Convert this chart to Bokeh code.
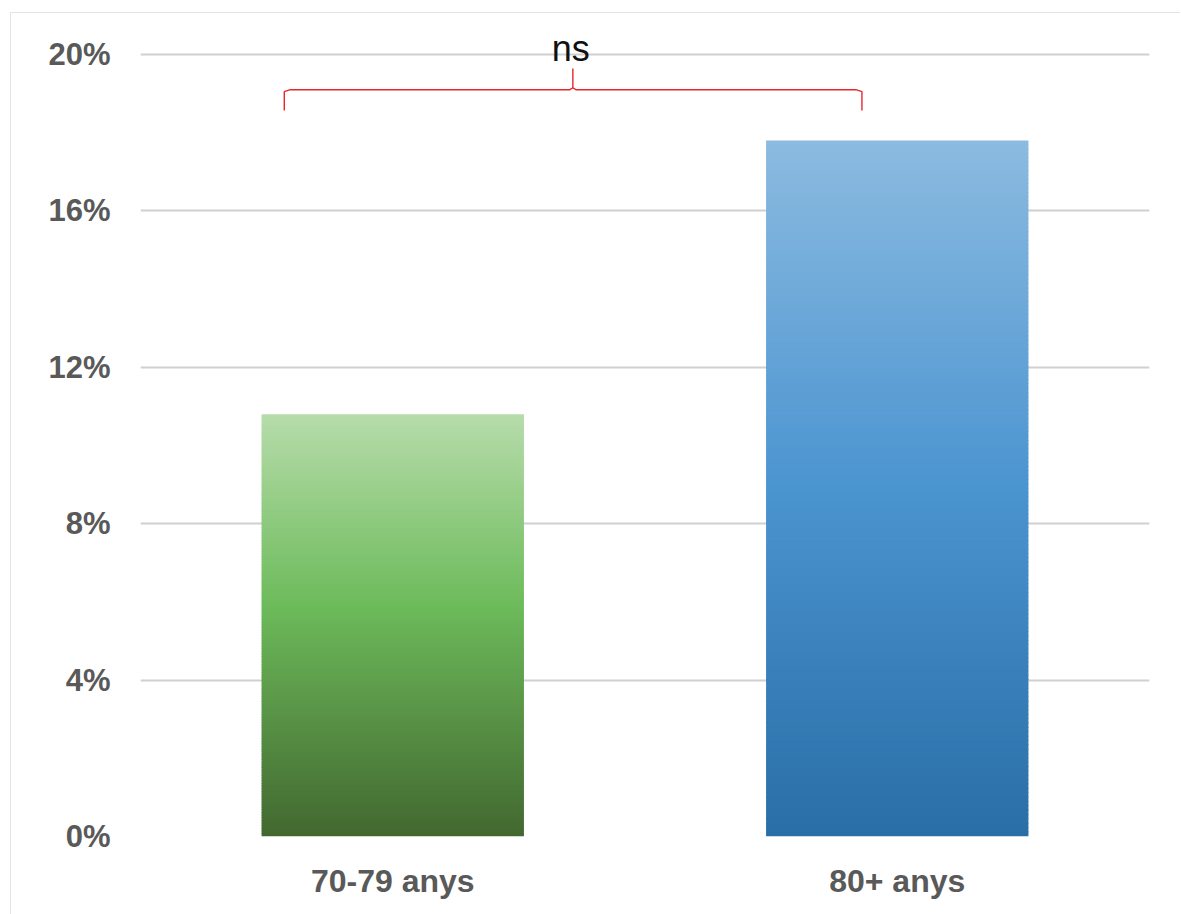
from bokeh.plotting import figure
from bokeh.models import ColumnDataSource, FixedTicker, Range1d, Label
from bokeh.embed import file_html
from bokeh.resources import INLINE

# ---- data ----
categories = ["70-79 anys", "80+ anys"]
values = [10.8, 17.8]
y_ticks = [0, 4, 8, 12, 16, 20]
y_tick_labels = ["0%", "4%", "8%", "12%", "16%", "20%"]
sig_label = "ns"

# gradient stops (fraction of bar height from bottom, colour)
grad_stops = [
    [(0.0, "#426830"), (0.55, "#6dbb5b"), (1.0, "#b7dcab")],
    [(0.0, "#2a6ea6"), (0.5, "#4a94d0"), (1.0, "#8cbbe0")],
]


def hex2rgb(h):
    h = h.lstrip("#")
    return tuple(int(h[i:i + 2], 16) for i in (0, 2, 4))


def interp(stops, t):
    for (t0, c0), (t1, c1) in zip(stops[:-1], stops[1:]):
        if t0 <= t <= t1:
            f = (t - t0) / (t1 - t0) if t1 > t0 else 0
            a, b = hex2rgb(c0), hex2rgb(c1)
            return "#%02x%02x%02x" % tuple(int(round(a[i] + (b[i] - a[i]) * f)) for i in range(3))
    return stops[-1][1]


centers = [i + 0.5 for i in range(len(categories))]
bar_w = 0.52
N = 160
left, right, bottom, top, color = [], [], [], [], []
for c, v, stops in zip(centers, values, grad_stops):
    for k in range(N):
        b = v * k / N
        t = v * (k + 1) / N
        left.append(c - bar_w / 2)
        right.append(c + bar_w / 2)
        bottom.append(b)
        top.append(t + (0.02 if k < N - 1 else 0))
        color.append(interp(stops, (k + 0.5) / N))

src = ColumnDataSource(dict(left=left, right=right, bottom=bottom, top=top, color=color))

W, H = 1170, 902
p = figure(width=W, height=H, output_backend="svg", toolbar_location=None,
           x_range=Range1d(0, len(categories)), y_range=Range1d(0, 20 * 803 / 782),
           min_border_left=129, min_border_right=32, min_border_top=20, min_border_bottom=79)
p.styles = {"margin-left": "10px", "margin-top": "12px",
            "border-left": "1px solid #e4e4e4", "border-top": "1px solid #e4e4e4"}
p.outline_line_color = None
p.background_fill_color = "white"
p.border_fill_color = "white"

p.quad(left="left", right="right", bottom="bottom", top="top", fill_color="color",
       line_color=None, source=src)

# significance bracket
xl, xr = centers[0] - 0.215, centers[1] - 0.07
xm = (centers[0] + centers[1]) / 2 - 0.143
yb, yh, yc = 19.10, 18.57, 19.64
p.line([xl, xl, xl + 0.012, xm - 0.006, xm, xm, xm, xm + 0.006, xr - 0.012, xr, xr],
       [yh, yb - 0.05, yb, yb, yb + 0.05, yc, yb + 0.05, yb, yb, yb - 0.05, yh],
       line_color="#e8262b", line_width=1.4)
p.add_layout(Label(x=xm - 0.004, y=20.15, text=sig_label, text_align="center", text_baseline="alphabetic",
                   text_font="Liberation Sans", text_font_size="36px", text_color="#111111"))

# axes
p.xaxis.ticker = FixedTicker(ticks=centers)
p.xaxis.major_label_overrides = {c: lab for c, lab in zip(centers, categories)}
p.yaxis.ticker = FixedTicker(ticks=y_ticks)
p.yaxis.major_label_overrides = {t: lab for t, lab in zip(y_ticks, y_tick_labels)}
for ax in (p.xaxis, p.yaxis):
    ax.axis_line_color = None
    ax.major_tick_line_color = None
    ax.minor_tick_line_color = None
    ax.major_label_text_font = "Liberation Sans"
    ax.major_label_text_font_style = "bold"
    ax.major_label_text_color = "#595959"
p.yaxis.major_label_text_font_size = "31px"
p.xaxis.major_label_text_font_size = "32px"
p.yaxis.major_label_standoff = 24
p.xaxis.major_label_standoff = 20

p.xgrid.grid_line_color = None
p.ygrid.ticker = FixedTicker(ticks=y_ticks)
p.ygrid.grid_line_color = "#d0d0d0"
p.ygrid.grid_line_width = 2
p.ygrid.level = "underlay"

open("out.html", "w").write(file_html(p, INLINE))
